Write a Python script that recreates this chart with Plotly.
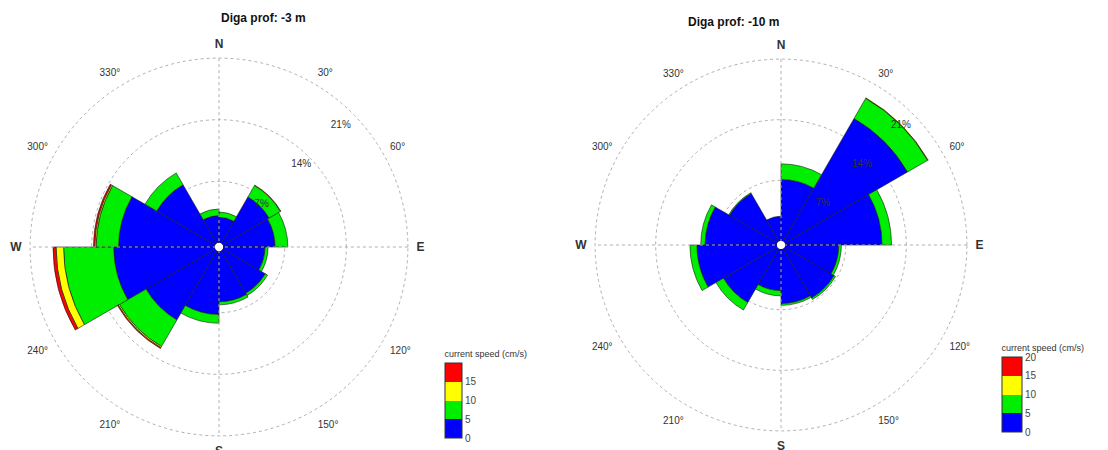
import plotly.graph_objects as go

# ---------------- data ----------------
sector_centers = [15, 45, 75, 105, 135, 165, 195, 225, 255, 285, 315, 345]
speed_bins = ["0-5", "5-10", "10-15", "15-20"]
speed_mid = [2.5, 7.5, 12.5, 17.5]

# frequency (%) per speed bin, depth -3 m
d3_bin0 = [2.9, 6.1, 5.9, 4.75, 5.6, 5.75, 7.2, 9.1, 11.5, 10.95, 7.7, 3.1]
d3_bin1 = [0.6, 1.5, 1.45, 0.35, 0.3, 0.35, 1.0, 3.5, 5.7, 2.55, 1.55, 0.75]
d3_bin2 = [0.0, 0.05, 0.0, 0.0, 0.0, 0.0, 0.0, 0.15, 0.85, 0.15, 0.0, 0.0]
d3_bin3 = [0.0, 0.0, 0.0, 0.0, 0.0, 0.0, 0.0, 0.1, 0.35, 0.15, 0.0, 0.0]

# frequency (%) per speed bin, depth -10 m
d10_bin0 = [7.1, 16.4, 11.2, 6.2, 6.6, 6.3, 4.8, 7.2, 9.25, 8.3, 6.4, 2.85]
d10_bin1 = [1.8, 2.7, 1.1, 0.3, 0.2, 0.2, 0.6, 1.0, 0.8, 0.5, 0.1, 0.0]
d10_bin2 = [0.0, 0.05, 0.0, 0.0, 0.0, 0.0, 0.0, 0.0, 0.0, 0.0, 0.0, 0.0]
d10_bin3 = [0.0, 0.0, 0.0, 0.0, 0.0, 0.0, 0.0, 0.0, 0.0, 0.0, 0.0, 0.0]

titles = ["Diga prof: -3 m", "Diga prof: -10 m"]
radial_ticks = [7, 14, 21]
radial_labels = ["7%", "14%", "21%"]
angle_ticks = [0, 30, 60, 90, 120, 150, 180, 210, 240, 270, 300, 330]
angle_labels = ["N", "30°", "60°", "E", "120°", "150°", "S", "210°", "240°", "W", "300°", "330°"]
cbar_ticks_left = [0, 5, 10, 15]
cbar_ticks_right = [0, 5, 10, 15, 20]

# ---------------- styling ----------------
FONT = "Liberation Sans, Arial, sans-serif"
W, H = 1108, 450
colorscale = [[0, "#0000ff"], [0.25, "#0000ff"], [0.25, "#00ee00"], [0.5, "#00ee00"],
              [0.5, "#ffff00"], [0.75, "#ffff00"], [0.75, "#ff0000"], [1, "#ff0000"]]

bold_dirs = {"N", "E", "S", "W"}
ticktext = [f"<b><span style='font-size:12px'>{t}</span></b>" if t in bold_dirs else t
            for t in angle_labels]

RMAX = radial_ticks[-1]
LABEL_POS = 0.91      # radial labels sit just inside their ring
LABEL_THETA = 45

cbar_geo = [
    dict(x=445 / W, y=1 - 438 / H, lenpx=90, thick=17),
    dict(x=1002 / W, y=1 - 432 / H, lenpx=90, thick=20),
]

datasets = [
    ("polar", [d3_bin0, d3_bin1, d3_bin2, d3_bin3], cbar_ticks_left, True),
    ("polar2", [d10_bin0, d10_bin1, d10_bin2, d10_bin3], cbar_ticks_right, False),
]


def deco_traces(sub):
    out = []
    for th in ([0, 0, 180], [90, 90, 270]):
        out.append(go.Scatterpolar(r=[RMAX, 0, RMAX], theta=th, mode="lines",
                                   line=dict(color="#b0b0b0", width=1, dash="dot"),
                                   subplot=sub, showlegend=False, hoverinfo="skip"))
    out.append(go.Scatterpolar(r=[t * LABEL_POS for t in radial_ticks],
                               theta=[LABEL_THETA] * len(radial_ticks),
                               mode="text", text=radial_labels,
                               textfont=dict(size=10, color="#333", family=FONT),
                               subplot=sub, showlegend=False, hoverinfo="skip"))
    return out


fig = go.Figure()
for k, (sub, bins, cticks, deco_first) in enumerate(datasets):
    if deco_first:
        for t in deco_traces(sub):
            fig.add_trace(t)
    for i, vals in enumerate(bins):
        show = (i == 0)
        fig.add_trace(go.Barpolar(
            r=vals, theta=sector_centers, width=[30] * len(vals), subplot=sub,
            name=speed_bins[i], showlegend=False,
            marker=dict(color=[speed_mid[i]] * len(vals), colorscale=colorscale,
                        cmin=0, cmax=20, showscale=show,
                        line=dict(color="#1a1a1a", width=0.6),
                        colorbar=dict(
                            title=dict(text="current speed (cm/s)", side="top",
                                       font=dict(size=9, color="#333", family=FONT)),
                            x=cbar_geo[k]["x"], xanchor="left",
                            y=cbar_geo[k]["y"], yanchor="bottom",
                            lenmode="pixels", len=cbar_geo[k]["lenpx"],
                            thickness=cbar_geo[k]["thick"], thicknessmode="pixels",
                            xpad=0, ypad=0, ticks="", outlinewidth=1,
                            outlinecolor="#333",
                            tickvals=cticks, ticktext=[str(t) for t in cticks],
                            tickfont=dict(size=10, color="#444", family=FONT),
                        )),
        ))
    if not deco_first:
        for t in deco_traces(sub):
            fig.add_trace(t)

polar_common = dict(
    bgcolor="white",
    hole=0.022,
    barmode="stack",
    radialaxis=dict(range=[0, RMAX * 1.006], tickmode="array", tickvals=radial_ticks,
                    showticklabels=False, showline=False, ticks="", angle=45,
                    showgrid=True, gridcolor="#b0b0b0", griddash="dot", gridwidth=1),
    angularaxis=dict(rotation=90, direction="clockwise", tickmode="array",
                     tickvals=angle_ticks, ticktext=ticktext, showgrid=False,
                     showline=False, ticks="outside", ticklen=5,
                     tickcolor="rgba(0,0,0,0)",
                     tickfont=dict(size=10, color="#333", family=FONT)),
)

fig.update_layout(
    width=W, height=H, autosize=False,
    margin=dict(l=0, r=0, t=0, b=0),
    paper_bgcolor="white", plot_bgcolor="white",
    font=dict(family=FONT, color="#222"),
    polar=dict(domain=dict(x=[29 / W, 409 / W], y=[(H - 437) / H, (H - 57) / H]), **polar_common),
    polar2=dict(domain=dict(x=[594 / W, 968 / W], y=[(H - 432) / H, (H - 58) / H]), **polar_common),
    annotations=[
        dict(text=f"<b>{titles[0]}</b>", x=219 / W, y=1 - 18 / H, xref="paper", yref="paper",
             yanchor="middle", showarrow=False, font=dict(size=12, color="#111", family=FONT)),
        dict(text=f"<b>{titles[1]}</b>", x=781 / W, y=1 - 22 / H, xref="paper", yref="paper",
             yanchor="middle", showarrow=False, font=dict(size=12, color="#111", family=FONT)),
    ],
)

fig.write_html("out.html")
